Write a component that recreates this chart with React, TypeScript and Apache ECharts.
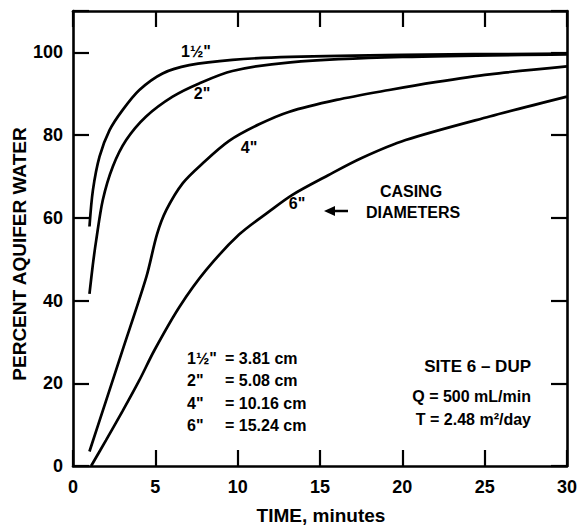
import React, { useEffect, useRef } from "react";
import * as echarts from "echarts";

// Curve values: [time (minutes), percent aquifer water]
const curve1half: number[][] = [
  [1.0, 57.9], [1.21, 66.7], [1.61, 74.8], [2.22, 81.2], [3.02, 86.1], [4.03, 90.9],
  [5.44, 94.9], [7.06, 96.9], [9.68, 98.2], [13.2, 98.9], [20, 99.4], [30, 99.7],
];
const curve2in: number[][] = [
  [1.0, 41.6], [1.2, 48.5], [1.41, 54.6], [1.81, 64.3], [2.42, 72.4], [3.23, 78.8],
  [4.44, 84.5], [6.05, 89.3], [7.66, 92.5], [9.68, 95.5], [13.2, 97.6], [20, 98.9], [30, 99.5],
];
const curve4in: number[][] = [
  [1.0, 3.5], [2, 15.7], [3, 27.9], [4.46, 45.8], [5.1, 56], [5.67, 61.9],
  [6.67, 68.4], [7.88, 73.2], [9.48, 78.6], [11.3, 82.6], [13.1, 85.6], [16, 88.5],
  [19.2, 90.9], [22, 92.8], [25.3, 94.7], [30, 96.6],
];
const curve6in: number[][] = [
  [1.1, 0], [2, 6.2], [3, 13.2], [4, 20.5], [4.96, 28.1], [6.47, 38.5], [8.09, 47.4],
  [10.1, 56], [11.9, 61.5], [13.3, 65.5], [15.5, 70.3], [17.5, 74.4], [20.2, 78.8],
  [25.3, 84.5], [30, 89.3],
];

const curveNames = ['1½"', '2"', '4"', '6"'];
const legendLeft = ['1½"', '2"', '4"', '6"'];
const legendRight = ["= 3.81 cm", "= 5.08 cm", "= 10.16 cm", "= 15.24 cm"];
const siteLines = ["SITE 6 – DUP", "Q = 500 mL/min", "T = 2.48 m²/day"];

const FONT = "Liberation Sans";

export default function App() {
  const ref = useRef<HTMLDivElement>(null);
  useEffect(() => {
    if (!ref.current) return;
    const chart = echarts.init(ref.current, null, { renderer: "svg" });
    const lineSeries = (name: string, data: number[][]) => ({
      name,
      type: "line",
      data,
      symbol: "none",
      smooth: 0.3,
      lineStyle: { color: "#000", width: 2.7 },
      silent: true,
    });
    const txt = (text: string, x: number, y: number, size: number, align = "center", extra: any = {}) => ({
      type: "text",
      x,
      y,
      style: {
        text,
        fill: "#000",
        font: `bold ${size}px "${FONT}"`,
        align,
        verticalAlign: "middle",
      },
      ...extra,
    });
    const legendTexts: any[] = [];
    legendLeft.forEach((t, i) => {
      legendTexts.push(txt(t, 187, 358 + i * 22.5, 16, "left"));
      legendTexts.push(txt(legendRight[i], 225, 358 + i * 22.5, 16, "left"));
    });
    const axisCommon = {
      type: "value",
      splitLine: { show: false },
      axisLine: { show: true, onZero: false, lineStyle: { color: "#000", width: 2.6 } },
      axisTick: { show: true, inside: true, length: 16, lineStyle: { color: "#000", width: 2.2 } },
    };
    chart.setOption({
      animation: false,
      backgroundColor: "#fff",
      grid: { left: 73, right: 11, top: 11, bottom: 62, containLabel: false },
      xAxis: [
        {
          ...axisCommon,
          position: "bottom",
          min: 0,
          max: 30,
          interval: 5,
          axisLabel: { color: "#000", fontFamily: FONT, fontWeight: "bold", fontSize: 18, margin: 12 },
        },
        {
          ...axisCommon,
          position: "top",
          min: 0,
          max: 30,
          interval: 5,
          axisLabel: { show: false },
        },
      ],
      yAxis: [
        {
          ...axisCommon,
          position: "left",
          min: 0,
          max: 110,
          interval: 20,
          axisLabel: {
            color: "#000",
            fontFamily: FONT,
            fontWeight: "bold",
            fontSize: 18,
            margin: 10,
            formatter: (v: number) => (v > 100 ? "" : String(v)),
          },
        },
        {
          ...axisCommon,
          position: "right",
          min: 0,
          max: 110,
          interval: 20,
          axisLabel: { show: false },
        },
      ],
      series: [
        lineSeries(curveNames[0], curve1half),
        lineSeries(curveNames[1], curve2in),
        lineSeries(curveNames[2], curve4in),
        lineSeries(curveNames[3], curve6in),
      ],
      graphic: [
        txt("PERCENT AQUIFER WATER", 19, 254, 19, "center", { rotation: Math.PI / 2 }),
        txt("TIME, minutes", 321, 515, 19),
        txt(curveNames[0], 196, 51, 16),
        txt(curveNames[1], 202, 93, 16),
        txt(curveNames[2], 249, 147, 16),
        txt(curveNames[3], 297, 203, 16),
        txt("CASING", 411, 191, 16),
        txt("DIAMETERS", 413, 212, 16),
        { type: "line", shape: { x1: 333, y1: 211, x2: 348, y2: 211 }, style: { stroke: "#000", lineWidth: 2.5 } },
        { type: "polygon", shape: { points: [[324, 211], [335, 206], [335, 216]] }, style: { fill: "#000" } },
        ...legendTexts,
        txt(siteLines[0], 531, 366, 17, "right"),
        txt(siteLines[1], 531, 396, 16, "right"),
        txt(siteLines[2], 531, 419, 16, "right"),
      ],
    });
    return () => chart.dispose();
  }, []);
  return <div ref={ref} style={{ width: 580, height: 528, position: "absolute", left: 0, top: 0 }} />;
}
